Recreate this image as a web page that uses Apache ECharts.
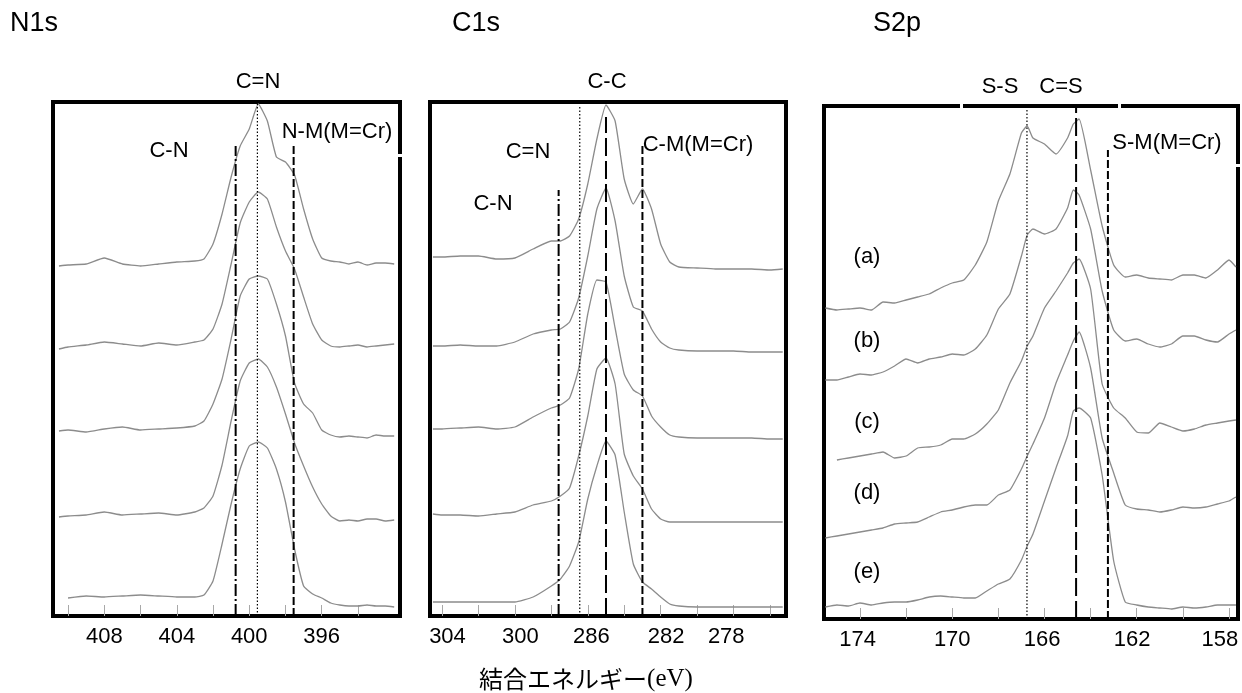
<!DOCTYPE html>
<html><head><meta charset="utf-8">
<script src="https://cdn.jsdelivr.net/npm/echarts@6/dist/echarts.min.js"></script>
<style>html,body{margin:0;padding:0;background:#fff}#c{width:1242px;height:693px}</style>
</head><body><div id="c"></div>
<script>
// ---------- DATA ----------
// N1s (binding energy, eV) and five stacked spectra (a)..(e), arbitrary units
const n1sEnergy = [410.5, 410, 409, 408, 407, 406, 405, 404, 403, 402.5, 402, 401.5, 401, 400.5, 400, 399.5, 399, 398.5, 398, 397.5, 397, 396.5, 396, 395.5, 395, 394.5, 394, 393.5, 393, 392.5, 392];
const n1sA = [350, 351, 352, 358, 352, 350, 352, 354, 355, 357, 372, 402, 439, 470, 487, 512, 495, 459, 454, 441, 407, 377, 358, 355, 354, 352, 354, 351, 353, 353, 352];
const n1sB = [267, 269, 271, 274, 272, 270, 273, 271, 274, 276, 287, 312, 352, 393, 414, 424, 417, 389, 365, 347, 319, 292, 276, 270, 269, 270, 271, 269, 270, 271, 272];
const n1sC = [185, 186, 184, 187, 189, 186, 187, 188, 190, 195, 212, 237, 277, 320, 337, 340, 337, 312, 280, 233, 212, 203, 186, 181, 179, 180, 179, 178, 181, 180, 180];
const n1sD = [99, 100, 101, 104, 101, 102, 103, 101, 104, 108, 120, 151, 195, 235, 253, 257, 249, 229, 202, 173, 150, 129, 112, 100, 95, 96, 95, 97, 97, 95, 96];
const n1sE = [null, 18, 20, 19, 20, 21, 20, 19, 19, 21, 35, 72, 112, 147, 170, 174, 168, 147, 114, 67, 30, 22, 18, 13, 11, 10, 10, 11, 10, 10, 9];
const n1sRefNames = ['C-N', 'C=N', 'N-M(M=Cr)'];
const n1sRefEnergy = [400.75, 399.55, 397.55];
const n1sRefTop = [470, 514, 470];
const n1sTickValues = [410, 408, 406, 404, 402, 400, 398, 396, 394];
const n1sLabelValues = [408, 404, 400, 396];
const n1sLabelTexts = ['408', '404', '400', '396'];

// C1s
const c1sEnergy = [294.5, 294, 293, 292, 291, 290, 289, 288, 287.5, 287, 286.5, 286, 285.5, 285, 284.5, 284, 283.5, 283, 282.5, 282, 281.5, 281, 280, 279, 278, 277, 276, 275.3];
const c1sA = [359, 359, 360, 360, 357, 358, 367, 375, 375, 380, 397, 432, 477, 511, 495, 437, 412, 427, 407, 372, 354, 349, 348, 347, 347, 347, 346, 347];
const c1sB = [270, 270, 271, 270, 270, 274, 282, 286, 287, 294, 318, 360, 407, 428, 395, 340, 309, 305, 287, 274, 268, 266, 265, 265, 265, 264, 264, 264];
const c1sC = [187, 187, 188, 189, 187, 189, 199, 208, 211, 218, 247, 302, 336, 334, 288, 242, 226, 220, 200, 189, 181, 179, 178, 178, 178, 178, 177, 177];
const c1sD = [102, 101, 101, 100, 102, 104, 111, 115, 120, 128, 160, 200, 247, 258, 232, 162, 140, 127, 107, 97, 94, 94, 94, 94, 94, 94, 94, 94];
const c1sE = [14, 14, 14, 14, 14, 14, 19, 30, 37, 50, 74, 117, 150, 175, 161, 104, 52, 34, 27, 19, 12, 10, 9, 9, 9, 9, 9, 9];
const c1sRefNames = ['C-N', 'C=N', 'C-C', 'C-M(M=Cr)'];
const c1sRefEnergy = [287.6, 286.44, 285.0, 283.0];
const c1sRefTop = [426, 511, 499, 470];
const c1sTickValues = [294, 292, 290, 288, 286, 284, 282, 280, 278, 276];
const c1sLabelValues = [293.7, 289.7, 285.8, 281.7, 278.4];
const c1sLabelTexts = ['304', '300', '286', '282', '278'];

// S2p
const s2pEnergy = [175.5, 175, 174.5, 174, 173.5, 173, 172.5, 172, 171.5, 171, 170.5, 170, 169.5, 169, 168.5, 168,
  167.5, 167, 166.75, 166.5, 166, 165.5, 165, 164.75, 164.5, 164, 163.5, 163,
  162.5, 162, 161.5, 161, 160.5, 160, 159.5, 159, 158.5, 158, 157.7];
const s2pA = [311, 309, 310, 311, 309, 317, 316, 319, 322, 325, 331, 336, 339, 354, 377, 418,
  445, 486, 493, 481, 475, 465, 481, 495, 500, 449, 393, 354,
  342, 344, 341, 340, 339, 344, 344, 341, 349, 359, 352];
const s2pB = [239, 239, 242, 245, 244, 247, 253, 260, 256, 260, 262, 265, 264, 270, 284, 310,
  325, 363, 384, 390, 385, 390, 411, 429, 424, 390, 328, 289,
  278, 280, 275, 272, 275, 283, 283, 279, 277, 285, 289];
const s2pC = [null, 159, 161, 163, 165, 167, 161, 163, 171, 172, 174, 180, 180, 185, 195, 209,
  236, 258, 273, 283, 311, 328, 346, 356, 360, 330, 235, 211,
  201, 187, 186, 196, 192, 188, 190, 194, 196, 198, 199];
const s2pD = [81, 83, 85, 87, 89, 91, 95, 96, 97, 102, 107, 109, 112, 114, 114, 124,
  129, 150, 163, 175, 201, 236, 264, 278, 287, 251, 181, 146,
  114, 110, 109, 107, 109, 112, 111, 112, 115, 118, 122];
const s2pE = [12, 14, 13, 16, 14, 16, 17, 17, 19, 22, 23, 22, 21, 21, 28, 35,
  40, 59, 73, 85, 118, 151, 183, 208, 211, 201, 144, 58,
  17, 14, 12, 11, 10, 12, 11, 12, 14, 14, 14];
const s2pRefNames = ['S-S', 'C=S', 'S-M(M=Cr)'];
const s2pRefEnergy = [166.76, 164.63, 163.25];
const s2pRefTop = [512, 512, 469];
const s2pTickValues = [174, 172, 170, 168, 166, 164, 162, 160, 158];
const s2pLabelValues = [174.1, 170, 166.1, 162.2, 158.4];
const s2pLabelTexts = ['174', '170', '166', '162', '158'];

const panelTitles = ['N1s', 'C1s', 'S2p'];
const sampleLabels = ['(a)', '(b)', '(c)', '(d)', '(e)'];
const xAxisTitle = '結合エネルギー';
const xAxisUnit = '(eV)';

// ---------- LAYOUT / STYLE ----------
const FONT = '"Liberation Sans", Arial, sans-serif';
const LINE_KIND = {
  dotted:   { width: 1.2, type: [1.5, 2] },
  dashdot:  { width: 2, type: [12, 3, 2, 3] },
  dash:     { width: 2, type: [8, 3] },
  longdash: { width: 2, type: [18, 5] }
};
const panels = [
  { grid: { left: 53, top: 102, width: 347, height: 514 }, xmin: 391.68, xmax: 410.83,
    energy: n1sEnergy, curves: [n1sA, n1sB, n1sC, n1sD, n1sE],
    refE: n1sRefEnergy, refTop: n1sRefTop, refKinds: ['dashdot', 'dotted', 'dash'],
    ticks: n1sTickValues, labVals: n1sLabelValues, labTexts: n1sLabelTexts },
  { grid: { left: 430, top: 102, width: 356, height: 514 }, xmin: 275.12, xmax: 294.66,
    energy: c1sEnergy, curves: [c1sA, c1sB, c1sC, c1sD, c1sE],
    refE: c1sRefEnergy, refTop: c1sRefTop, refKinds: ['dashdot', 'dotted', 'longdash', 'dash'],
    ticks: c1sTickValues, labVals: c1sLabelValues, labTexts: c1sLabelTexts },
  { grid: { left: 824, top: 106, width: 414, height: 513 }, xmin: 157.61, xmax: 175.56,
    energy: s2pEnergy, curves: [s2pA, s2pB, s2pC, s2pD, s2pE],
    refE: s2pRefEnergy, refTop: s2pRefTop, refKinds: ['dotted', 'longdash', 'dash'],
    ticks: s2pTickValues, labVals: s2pLabelValues, labTexts: s2pLabelTexts }
];

const grids = [], xAxes = [], yAxes = [], series = [];
panels.forEach((p, gi) => {
  grids.push(Object.assign({ show: true, borderColor: '#000', borderWidth: 4, backgroundColor: 'transparent' }, p.grid));
  xAxes.push({
    gridIndex: gi, type: 'value', inverse: true, min: p.xmin, max: p.xmax,
    axisLine: { show: false }, splitLine: { show: false },
    axisTick: { show: true, inside: false, length: -11, customValues: p.ticks,
      lineStyle: { color: '#a8a8a8', width: 1 } },
    axisLabel: { show: true, customValues: p.labVals, fontSize: 22, fontFamily: FONT, color: '#000', margin: 10,
      formatter: (v) => { const k = p.labVals.findIndex(x => Math.abs(x - v) < 1e-6); return k >= 0 ? p.labTexts[k] : ''; } }
  });
  yAxes.push({ gridIndex: gi, type: 'value', min: 0, max: p.grid.height, show: false });
  p.curves.forEach((vals) => {
    series.push({
      type: 'line', xAxisIndex: gi, yAxisIndex: gi, symbol: 'none', smooth: 0.15,
      lineStyle: { color: '#8c8c8c', width: 1.3 }, silent: true, z: 2,
      data: p.energy.map((e, i) => [e, vals[i]])
    });
  });
  p.refE.forEach((e, k) => {
    const kind = LINE_KIND[p.refKinds[k]];
    series.push({
      type: 'line', xAxisIndex: gi, yAxisIndex: gi, symbol: 'none', silent: true, z: 3,
      lineStyle: { color: '#000', width: kind.width, type: kind.type },
      data: [[e, 0], [e, p.refTop[k]]]
    });
  });
});

function txt(text, x, y, size, align) {
  return { type: 'text', x: x, y: y, z: 50,
    style: { text: text, fontSize: size, fontFamily: FONT, fill: '#000', align: align || 'center', verticalAlign: 'middle' } };
}
const graphics = [
  txt(panelTitles[0], 10, 24, 27, 'left'),
  txt(panelTitles[1], 452, 24, 27, 'left'),
  txt(panelTitles[2], 873, 24, 27, 'left'),
  txt(n1sRefNames[1], 258, 82, 22), txt(n1sRefNames[0], 169, 151, 22), txt(n1sRefNames[2], 337, 132, 22),
  txt(c1sRefNames[2], 607, 82, 22), txt(c1sRefNames[1], 528, 152, 22), txt(c1sRefNames[0], 493, 204, 22), txt(c1sRefNames[3], 698, 145, 22),
  txt(s2pRefNames[0], 1000, 87, 22), txt(s2pRefNames[1], 1061, 87, 22), txt(s2pRefNames[2], 1167, 143, 22),
  txt(sampleLabels[0], 867, 257, 22), txt(sampleLabels[1], 867, 341, 22), txt(sampleLabels[2], 867, 422, 22),
  txt(sampleLabels[3], 867, 493, 22), txt(sampleLabels[4], 867, 572, 22),
  { type: 'text', x: 586, y: 679, z: 50,
    style: { text: '{a|' + xAxisTitle + '}{b|' + xAxisUnit + '}', align: 'center', verticalAlign: 'middle',
      rich: { a: { fontSize: 24, fontFamily: '"Noto Sans CJK JP"', fill: '#000', color: '#000' },
              b: { fontSize: 25, fontFamily: '"Liberation Serif", serif', fill: '#000', color: '#000' } } } },
  // small white breaks on the frames as in the scanned original
  { type: 'rect', z: 60, shape: { x: 398, y: 154, width: 4, height: 3 }, style: { fill: '#fff' } },
  { type: 'rect', z: 60, shape: { x: 960, y: 104, width: 3, height: 4 }, style: { fill: '#fff' } },
  { type: 'rect', z: 60, shape: { x: 1118, y: 104, width: 3, height: 4 }, style: { fill: '#fff' } },
  { type: 'rect', z: 60, shape: { x: 1236, y: 164, width: 4, height: 3 }, style: { fill: '#fff' } }
];

const chart = echarts.init(document.getElementById('c'), null, { renderer: 'canvas' });
chart.setOption({
  backgroundColor: '#fff', animation: false,
  grid: grids, xAxis: xAxes, yAxis: yAxes, series: series, graphic: graphics
});
</script></body></html>
